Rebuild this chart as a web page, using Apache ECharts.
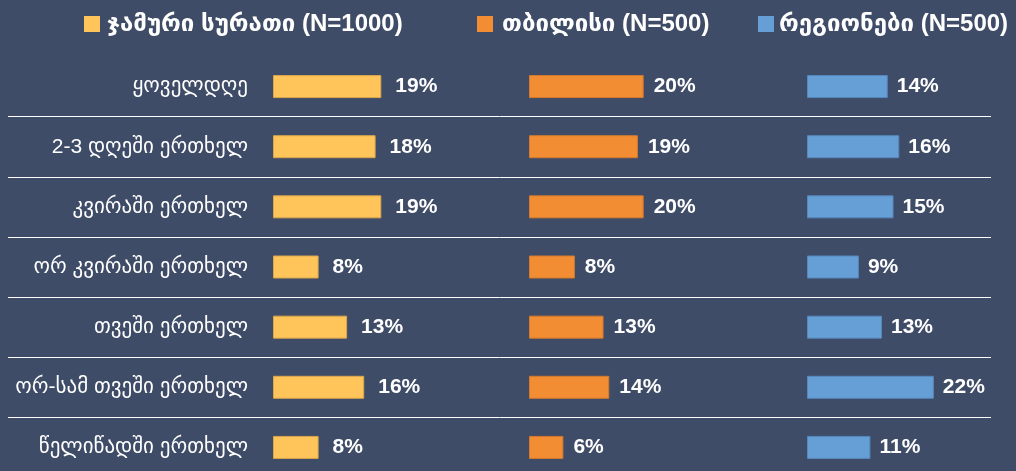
<!DOCTYPE html>
<html><head><meta charset="utf-8">
<script src="https://cdn.jsdelivr.net/npm/echarts@6/dist/echarts.min.js"></script>
<style>html,body{margin:0;padding:0;background:#3f4c67;overflow:hidden}#c{width:1016px;height:478px}</style>
</head><body><div id="c"></div>
<script>
const categories = ['ყოველდღე','2-3 დღეში ერთხელ','კვირაში ერთხელ','ორ კვირაში ერთხელ','თვეში ერთხელ','ორ-სამ თვეში ერთხელ','წელიწადში ერთხელ'];
const seriesNames = ['ჯამური სურათი (N=1000)','თბილისი (N=500)','რეგიონები (N=500)'];
const totalValues = [19,18,19,8,13,16,8];
const tbilisiValues = [20,19,20,8,13,14,6];
const regionValues = [14,16,15,9,13,22,11];

(function(){
const FONT = '"Liberation Sans","DejaVu Sans",sans-serif';
const colors = ['#FFC55A','#F28D33','#659FD6'];
const borders = ['#d9a64c','#d47a2c','#5688bd'];
const lefts = [273,529,807];
const widths = [171,172,173];
const dists = [14,10,9];
const gTop = 56.5, gH = 421;

const grids = lefts.map((l,i)=>({left:l, top:gTop, width:widths[i], height:gH}));
grids.push({left:8, top:gTop, width:983, height:gH});

const xAxes = grids.map((g,i)=>({gridIndex:i, type:'value', min:0, max: i<3 ? 30 : 1, show:false}));
const yAxes = grids.map((g,i)=>({
  gridIndex:i, type:'category', data:categories, inverse:true,
  axisLine:{show:false}, axisTick:{show:false},
  axisLabel:{show:i===0, color:'#fff', fontSize:21, fontFamily:FONT, margin:25},
  splitLine:{show:i===3, lineStyle:{color:['rgba(0,0,0,0)','#ffffff','#ffffff','#ffffff','#ffffff','#ffffff','#ffffff','rgba(0,0,0,0)'], width:1}}
}));

const data = [totalValues, tbilisiValues, regionValues];
const series = data.map((d,i)=>({
  name: seriesNames[i], type:'bar', xAxisIndex:i, yAxisIndex:i, data:d, barWidth:23,
  itemStyle:{color:colors[i], borderColor:borders[i], borderWidth:1},
  label:{show:true, position:'right', distance:dists[i], formatter:'{c}%', color:'#fff', fontSize:21, fontWeight:'bold', fontFamily:FONT},
  animation:false
}));

const legendPos = [84,477,758];
const legendPad = [2,4,0];
const legends = seriesNames.map((n,i)=>({
  data:[n], left:legendPos[i], top:12, padding:0, itemWidth:16, itemHeight:16, itemGap:0,
  icon:'rect', itemStyle:{borderWidth:0},
  textStyle:{color:'#fff', fontSize:24, fontWeight:'bold', fontFamily:FONT, padding:[0,0,0,legendPad[i]]}
}));

const chart = echarts.init(document.getElementById('c'));
chart.setOption({
  backgroundColor:'#3f4c67',
  animation:false,
  legend: legends,
  grid: grids, xAxis: xAxes, yAxis: yAxes, series: series
});
})();
</script></body></html>
